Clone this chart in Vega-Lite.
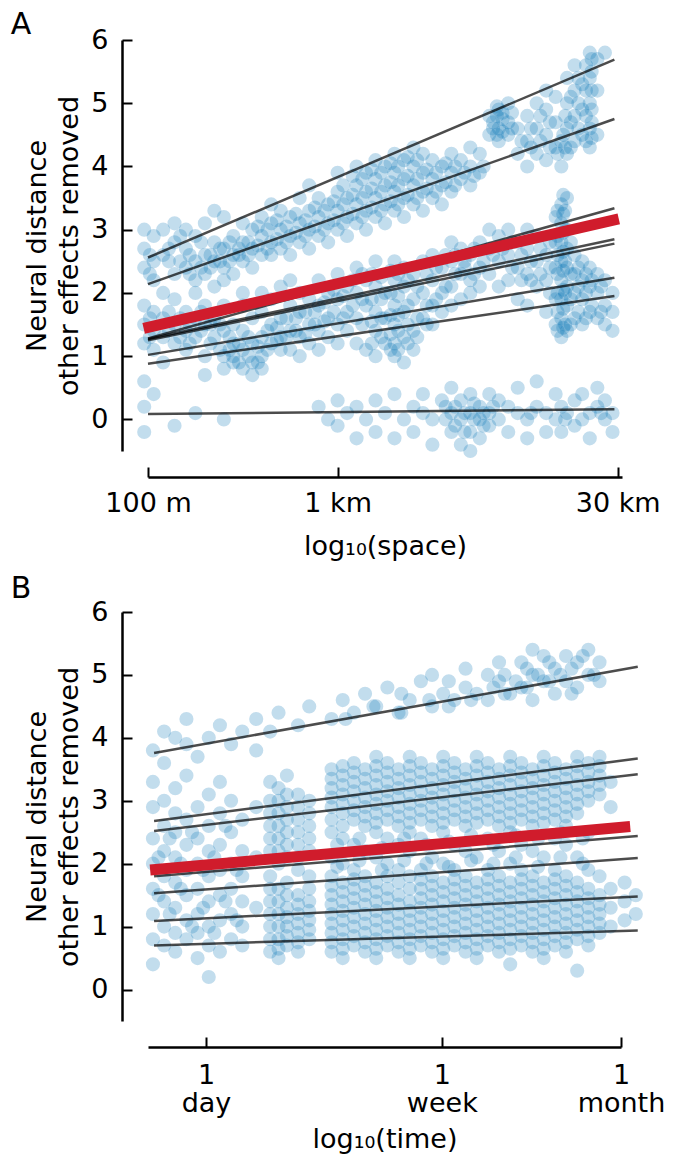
{
"$schema": "https://vega.github.io/schema/vega-lite/v6.json",
"background": "white",
"padding": {"left": 10, "top": 10, "right": 5, "bottom": 5},
"spacing": 15,
"config": {
 "view": {"stroke": null},
 "font": "DejaVu Sans",
 "axis": {"grid": false, "domainColor": "#000", "domainWidth": 2.5, "tickColor": "#000", "tickWidth": 2, "tickSize": -10, "labelFont": "DejaVu Sans", "titleFont": "DejaVu Sans", "labelFontSize": 27, "titleFontSize": 27, "titleFontWeight": "normal", "labelColor": "#000", "titleColor": "#000", "offset": 26, "labelFlush": false, "labelOverlap": false, "labelBound": false},
 "axisY": {"labelPadding": 24, "titlePadding": 7, "titleLineHeight": 32},
 "title": {"font": "DejaVu Sans", "fontSize": 30, "fontWeight": "normal", "color": "#000", "anchor": "start", "frame": "bounds"}
},
"datasets": {
 "ptsA": [
{"x":1.98,"y":2.4},{"x":1.98,"y":2.7},{"x":1.98,"y":1.5},{"x":1.98,"y":1.2},{"x":1.98,"y":0.6},{"x":1.98,"y":0.2},{"x":1.98,"y":-0.2},{"x":1.98,"y":1.8},{"x":1.98,"y":3.0},
{"x":2.03,"y":2.2},{"x":2.03,"y":2.9},{"x":2.03,"y":1.4},{"x":2.03,"y":1.7},{"x":2.03,"y":1.1},{"x":2.03,"y":0.4},{"x":2.03,"y":2.5},
{"x":2.08,"y":2.6},{"x":2.08,"y":3.0},{"x":2.08,"y":1.6},{"x":2.08,"y":1.3},{"x":2.08,"y":2.0},{"x":2.08,"y":0.9},
{"x":2.14,"y":2.3},{"x":2.14,"y":2.8},{"x":2.14,"y":1.5},{"x":2.14,"y":1.2},{"x":2.14,"y":1.9},{"x":2.14,"y":3.1},{"x":2.14,"y":-0.1},
{"x":2.2,"y":2.4},{"x":2.2,"y":2.7},{"x":2.2,"y":3.0},{"x":2.2,"y":1.4},{"x":2.2,"y":1.7},{"x":2.2,"y":1.1},
{"x":2.25,"y":2.5},{"x":2.25,"y":2.2},{"x":2.25,"y":2.9},{"x":2.25,"y":1.6},{"x":2.25,"y":1.3},{"x":2.25,"y":2.0},{"x":2.25,"y":0.1},
{"x":2.3,"y":2.3},{"x":2.3,"y":2.6},{"x":2.3,"y":3.1},{"x":2.3,"y":1.5},{"x":2.3,"y":1.0},{"x":2.3,"y":1.8},{"x":2.3,"y":0.7},
{"x":2.35,"y":2.5},{"x":2.35,"y":2.8},{"x":2.35,"y":3.3},{"x":2.35,"y":1.3},{"x":2.35,"y":1.6},{"x":2.35,"y":2.1},
{"x":2.4,"y":2.4},{"x":2.4,"y":2.7},{"x":2.4,"y":2.2},{"x":2.4,"y":1.4},{"x":2.4,"y":1.0},{"x":2.4,"y":0.8},{"x":2.4,"y":1.8},{"x":2.4,"y":3.2},{"x":2.4,"y":0.0},
{"x":2.45,"y":2.6},{"x":2.45,"y":2.9},{"x":2.45,"y":2.3},{"x":2.45,"y":1.2},{"x":2.45,"y":1.0},{"x":2.45,"y":0.9},{"x":2.45,"y":1.5},
{"x":2.5,"y":2.5},{"x":2.5,"y":2.8},{"x":2.5,"y":3.1},{"x":2.5,"y":1.1},{"x":2.5,"y":0.8},{"x":2.5,"y":1.4},{"x":2.5,"y":1.8},{"x":2.5,"y":2.0},
{"x":2.55,"y":2.7},{"x":2.55,"y":3.0},{"x":2.55,"y":2.4},{"x":2.55,"y":0.9},{"x":2.55,"y":1.2},{"x":2.55,"y":1.6},{"x":2.55,"y":0.7},
{"x":2.6,"y":2.6},{"x":2.6,"y":2.9},{"x":2.6,"y":3.2},{"x":2.6,"y":1.0},{"x":2.6,"y":1.3},{"x":2.6,"y":1.7},{"x":2.6,"y":2.0},{"x":2.6,"y":0.8},
{"x":2.65,"y":2.8},{"x":2.65,"y":3.1},{"x":2.65,"y":2.6},{"x":2.65,"y":3.4},{"x":2.65,"y":1.2},{"x":2.65,"y":1.5},{"x":2.65,"y":1.9},
{"x":2.7,"y":2.7},{"x":2.7,"y":3.0},{"x":2.7,"y":3.3},{"x":2.7,"y":1.3},{"x":2.7,"y":1.6},{"x":2.7,"y":1.1},{"x":2.7,"y":2.1},
{"x":2.75,"y":2.9},{"x":2.75,"y":3.2},{"x":2.75,"y":2.6},{"x":2.75,"y":1.4},{"x":2.75,"y":1.8},{"x":2.75,"y":1.1},{"x":2.75,"y":2.2},
{"x":2.8,"y":2.8},{"x":2.8,"y":3.1},{"x":2.8,"y":3.5},{"x":2.8,"y":1.3},{"x":2.8,"y":1.7},{"x":2.8,"y":2.0},{"x":2.8,"y":1.0},
{"x":2.85,"y":3.0},{"x":2.85,"y":3.3},{"x":2.85,"y":2.7},{"x":2.85,"y":3.7},{"x":2.85,"y":1.5},{"x":2.85,"y":1.9},{"x":2.85,"y":1.2},
{"x":2.9,"y":2.9},{"x":2.9,"y":3.2},{"x":2.9,"y":3.5},{"x":2.9,"y":1.4},{"x":2.9,"y":1.8},{"x":2.9,"y":2.2},{"x":2.9,"y":1.1},{"x":2.9,"y":0.2},
{"x":2.95,"y":3.1},{"x":2.95,"y":3.4},{"x":2.95,"y":2.8},{"x":2.95,"y":1.6},{"x":2.95,"y":2.0},{"x":2.95,"y":1.3},{"x":2.95,"y":0.0},
{"x":3.0,"y":3.0},{"x":3.0,"y":3.3},{"x":3.0,"y":3.6},{"x":3.0,"y":3.9},{"x":3.0,"y":1.5},{"x":3.0,"y":1.9},{"x":3.0,"y":2.3},{"x":3.0,"y":1.2},{"x":3.0,"y":0.3},{"x":3.0,"y":-0.1},
{"x":3.05,"y":3.2},{"x":3.05,"y":3.5},{"x":3.05,"y":2.9},{"x":3.05,"y":1.7},{"x":3.05,"y":2.1},{"x":3.05,"y":1.4},{"x":3.05,"y":0.1},
{"x":3.1,"y":3.1},{"x":3.1,"y":3.4},{"x":3.1,"y":3.7},{"x":3.1,"y":4.0},{"x":3.1,"y":1.6},{"x":3.1,"y":2.0},{"x":3.1,"y":2.4},{"x":3.1,"y":1.2},{"x":3.1,"y":0.2},{"x":3.1,"y":-0.3},
{"x":3.15,"y":3.3},{"x":3.15,"y":3.6},{"x":3.15,"y":3.0},{"x":3.15,"y":3.9},{"x":3.15,"y":1.8},{"x":3.15,"y":2.2},{"x":3.15,"y":1.1},{"x":3.15,"y":0.0},
{"x":3.2,"y":3.2},{"x":3.2,"y":3.5},{"x":3.2,"y":3.8},{"x":3.2,"y":4.1},{"x":3.2,"y":1.4},{"x":3.2,"y":1.7},{"x":3.2,"y":2.1},{"x":3.2,"y":2.5},{"x":3.2,"y":1.0},{"x":3.2,"y":0.3},{"x":3.2,"y":-0.2},
{"x":3.25,"y":3.4},{"x":3.25,"y":3.7},{"x":3.25,"y":3.1},{"x":3.25,"y":4.0},{"x":3.25,"y":1.6},{"x":3.25,"y":2.0},{"x":3.25,"y":1.2},{"x":3.25,"y":0.1},
{"x":3.3,"y":3.3},{"x":3.3,"y":3.6},{"x":3.3,"y":3.9},{"x":3.3,"y":4.2},{"x":3.3,"y":1.2},{"x":3.3,"y":1.5},{"x":3.3,"y":1.8},{"x":3.3,"y":2.2},{"x":3.3,"y":2.5},{"x":3.3,"y":1.0},{"x":3.3,"y":0.4},{"x":3.3,"y":-0.3},
{"x":3.35,"y":3.5},{"x":3.35,"y":3.8},{"x":3.35,"y":3.2},{"x":3.35,"y":4.1},{"x":3.35,"y":1.3},{"x":3.35,"y":1.7},{"x":3.35,"y":2.1},{"x":3.35,"y":2.4},{"x":3.35,"y":0.9},{"x":3.35,"y":0.0},
{"x":3.4,"y":3.4},{"x":3.4,"y":3.7},{"x":3.4,"y":4.0},{"x":3.4,"y":4.3},{"x":3.4,"y":1.4},{"x":3.4,"y":1.9},{"x":3.4,"y":2.3},{"x":3.4,"y":1.1},{"x":3.4,"y":0.2},{"x":3.4,"y":-0.2},
{"x":3.45,"y":3.6},{"x":3.45,"y":3.9},{"x":3.45,"y":3.3},{"x":3.45,"y":4.2},{"x":3.45,"y":1.6},{"x":3.45,"y":2.0},{"x":3.45,"y":2.5},{"x":3.45,"y":0.1},{"x":3.45,"y":0.4},
{"x":3.5,"y":3.5},{"x":3.5,"y":3.8},{"x":3.5,"y":4.1},{"x":3.5,"y":1.8},{"x":3.5,"y":2.2},{"x":3.5,"y":2.6},{"x":3.5,"y":1.5},{"x":3.5,"y":0.0},{"x":3.5,"y":-0.4},
{"x":3.55,"y":3.7},{"x":3.55,"y":4.0},{"x":3.55,"y":3.4},{"x":3.55,"y":2.0},{"x":3.55,"y":2.4},{"x":3.55,"y":1.7},{"x":3.55,"y":0.3},
{"x":3.6,"y":3.6},{"x":3.6,"y":3.9},{"x":3.6,"y":4.2},{"x":3.6,"y":2.1},{"x":3.6,"y":2.5},{"x":3.6,"y":2.8},{"x":3.6,"y":1.8},{"x":3.6,"y":0.1},{"x":3.6,"y":-0.2},{"x":3.6,"y":0.5},
{"x":3.65,"y":3.8},{"x":3.65,"y":4.1},{"x":3.65,"y":2.3},{"x":3.65,"y":2.7},{"x":3.65,"y":1.9},{"x":3.65,"y":0.0},{"x":3.65,"y":0.3},{"x":3.65,"y":-0.4},
{"x":3.7,"y":3.7},{"x":3.7,"y":4.0},{"x":3.7,"y":4.3},{"x":3.7,"y":2.2},{"x":3.7,"y":2.6},{"x":3.7,"y":2.0},{"x":3.7,"y":0.1},{"x":3.7,"y":-0.2},{"x":3.7,"y":0.4},{"x":3.7,"y":-0.5},
{"x":3.75,"y":3.9},{"x":3.75,"y":4.2},{"x":3.75,"y":2.4},{"x":3.75,"y":2.8},{"x":3.75,"y":2.1},{"x":3.75,"y":0.0},{"x":3.75,"y":0.2},{"x":3.75,"y":-0.3},
{"x":3.8,"y":4.5},{"x":3.8,"y":4.8},{"x":3.8,"y":2.3},{"x":3.8,"y":2.7},{"x":3.8,"y":3.0},{"x":3.8,"y":0.1},{"x":3.8,"y":-0.1},{"x":3.8,"y":0.4},
{"x":3.85,"y":4.6},{"x":3.85,"y":4.9},{"x":3.85,"y":4.4},{"x":3.85,"y":2.5},{"x":3.85,"y":2.9},{"x":3.85,"y":2.1},{"x":3.85,"y":0.0},{"x":3.85,"y":0.3},
{"x":3.9,"y":4.7},{"x":3.9,"y":5.0},{"x":3.9,"y":4.5},{"x":3.9,"y":2.2},{"x":3.9,"y":2.6},{"x":3.9,"y":3.0},{"x":3.9,"y":0.2},{"x":3.9,"y":-0.2},
{"x":3.95,"y":4.2},{"x":3.95,"y":4.6},{"x":3.95,"y":2.4},{"x":3.95,"y":2.8},{"x":3.95,"y":1.9},{"x":3.95,"y":0.1},{"x":3.95,"y":0.5},
{"x":4.0,"y":4.0},{"x":4.0,"y":4.4},{"x":4.0,"y":4.8},{"x":4.0,"y":2.3},{"x":4.0,"y":2.7},{"x":4.0,"y":3.0},{"x":4.0,"y":1.8},{"x":4.0,"y":0.0},{"x":4.0,"y":-0.3},
{"x":4.05,"y":4.2},{"x":4.05,"y":4.6},{"x":4.05,"y":5.0},{"x":4.05,"y":2.5},{"x":4.05,"y":2.9},{"x":4.05,"y":2.1},{"x":4.05,"y":0.2},{"x":4.05,"y":0.6},
{"x":4.1,"y":4.1},{"x":4.1,"y":4.5},{"x":4.1,"y":4.9},{"x":4.1,"y":5.2},{"x":4.1,"y":2.2},{"x":4.1,"y":2.6},{"x":4.1,"y":1.7},{"x":4.1,"y":0.1},{"x":4.1,"y":-0.2},
{"x":4.15,"y":4.3},{"x":4.15,"y":4.7},{"x":4.15,"y":5.1},{"x":4.15,"y":1.5},{"x":4.15,"y":1.9},{"x":4.15,"y":2.4},{"x":4.15,"y":2.8},{"x":4.15,"y":3.2},{"x":4.15,"y":0.0},{"x":4.15,"y":0.4},
{"x":4.18,"y":4.0},{"x":4.18,"y":4.4},{"x":4.18,"y":1.3},{"x":4.18,"y":1.6},{"x":4.18,"y":1.9},{"x":4.18,"y":2.2},{"x":4.18,"y":2.5},{"x":4.18,"y":2.8},{"x":4.18,"y":3.1},{"x":4.18,"y":3.4},{"x":4.18,"y":0.2},{"x":4.18,"y":-0.2},
{"x":4.21,"y":4.2},{"x":4.21,"y":4.6},{"x":4.21,"y":5.0},{"x":4.21,"y":5.4},{"x":4.21,"y":1.4},{"x":4.21,"y":1.8},{"x":4.21,"y":2.1},{"x":4.21,"y":2.4},{"x":4.21,"y":2.7},{"x":4.21,"y":3.0},{"x":4.21,"y":3.5},{"x":4.21,"y":0.1},
{"x":4.25,"y":4.4},{"x":4.25,"y":4.8},{"x":4.25,"y":5.2},{"x":4.25,"y":5.6},{"x":4.25,"y":1.6},{"x":4.25,"y":2.0},{"x":4.25,"y":2.3},{"x":4.25,"y":2.6},{"x":4.25,"y":0.3},{"x":4.25,"y":-0.1},
{"x":4.29,"y":4.5},{"x":4.29,"y":4.9},{"x":4.29,"y":5.3},{"x":4.29,"y":1.5},{"x":4.29,"y":1.9},{"x":4.29,"y":2.2},{"x":4.29,"y":2.5},{"x":4.29,"y":0.0},{"x":4.29,"y":0.4},
{"x":4.33,"y":4.3},{"x":4.33,"y":4.6},{"x":4.33,"y":5.0},{"x":4.33,"y":5.4},{"x":4.33,"y":5.8},{"x":4.33,"y":1.7},{"x":4.33,"y":2.1},{"x":4.33,"y":2.4},{"x":4.33,"y":0.1},{"x":4.33,"y":-0.3},
{"x":4.37,"y":4.5},{"x":4.37,"y":5.2},{"x":4.37,"y":5.7},{"x":4.37,"y":1.6},{"x":4.37,"y":2.0},{"x":4.37,"y":2.3},{"x":4.37,"y":0.2},{"x":4.37,"y":0.5},
{"x":4.41,"y":1.5},{"x":4.41,"y":1.8},{"x":4.41,"y":2.2},{"x":4.41,"y":0.0},{"x":4.41,"y":0.3},{"x":4.41,"y":5.8},
{"x":4.45,"y":1.4},{"x":4.45,"y":1.7},{"x":4.45,"y":2.0},{"x":4.45,"y":0.1},{"x":4.45,"y":-0.2},
{"x":2.01,"y":2.3},{"x":2.01,"y":2.6},{"x":2.01,"y":1.3},{"x":2.01,"y":1.6},
{"x":2.11,"y":2.5},{"x":2.11,"y":2.7},{"x":2.11,"y":1.4},{"x":2.11,"y":1.7},
{"x":2.17,"y":2.5},{"x":2.17,"y":2.9},{"x":2.17,"y":1.3},{"x":2.17,"y":1.6},
{"x":2.22,"y":2.6},{"x":2.22,"y":2.3},{"x":2.22,"y":1.5},{"x":2.22,"y":1.2},
{"x":2.28,"y":2.4},{"x":2.28,"y":2.8},{"x":2.28,"y":1.4},{"x":2.28,"y":1.7},
{"x":2.33,"y":2.6},{"x":2.33,"y":2.4},{"x":2.33,"y":1.2},{"x":2.33,"y":1.5},
{"x":2.38,"y":2.7},{"x":2.38,"y":2.5},{"x":2.38,"y":1.5},{"x":2.38,"y":1.1},
{"x":2.43,"y":2.5},{"x":2.43,"y":2.8},{"x":2.43,"y":1.1},{"x":2.43,"y":1.3},
{"x":2.48,"y":2.7},{"x":2.48,"y":2.6},{"x":2.48,"y":0.9},{"x":2.48,"y":1.2},
{"x":2.53,"y":2.8},{"x":2.53,"y":2.6},{"x":2.53,"y":1.0},{"x":2.53,"y":1.3},
{"x":2.58,"y":2.75},{"x":2.58,"y":3.05},{"x":2.58,"y":0.9},{"x":2.58,"y":1.15},
{"x":2.63,"y":2.7},{"x":2.63,"y":3.0},{"x":2.63,"y":1.1},{"x":2.63,"y":1.4},
{"x":2.68,"y":2.85},{"x":2.68,"y":3.15},{"x":2.68,"y":1.25},{"x":2.68,"y":1.45},
{"x":2.73,"y":2.8},{"x":2.73,"y":3.05},{"x":2.73,"y":1.3},{"x":2.73,"y":1.6},
{"x":2.78,"y":2.95},{"x":2.78,"y":3.25},{"x":2.78,"y":1.4},{"x":2.78,"y":1.6},
{"x":2.83,"y":2.9},{"x":2.83,"y":3.15},{"x":2.83,"y":1.35},{"x":2.83,"y":1.7},
{"x":2.88,"y":3.05},{"x":2.88,"y":3.35},{"x":2.88,"y":1.5},{"x":2.88,"y":1.7},
{"x":2.93,"y":3.0},{"x":2.93,"y":3.3},{"x":2.93,"y":1.55},{"x":2.93,"y":1.85},
{"x":2.98,"y":3.15},{"x":2.98,"y":3.45},{"x":2.98,"y":1.7},{"x":2.98,"y":2.05},
{"x":3.03,"y":3.1},{"x":3.03,"y":3.4},{"x":3.03,"y":3.7},{"x":3.03,"y":1.6},{"x":3.03,"y":1.95},
{"x":3.08,"y":3.25},{"x":3.08,"y":3.55},{"x":3.08,"y":3.85},{"x":3.08,"y":1.8},{"x":3.08,"y":2.2},
{"x":3.13,"y":3.2},{"x":3.13,"y":3.5},{"x":3.13,"y":3.8},{"x":3.13,"y":1.5},{"x":3.13,"y":1.9},{"x":3.13,"y":2.3},
{"x":3.18,"y":3.35},{"x":3.18,"y":3.65},{"x":3.18,"y":3.95},{"x":3.18,"y":1.2},{"x":3.18,"y":1.55},{"x":3.18,"y":1.9},{"x":3.18,"y":2.3},
{"x":3.23,"y":3.3},{"x":3.23,"y":3.6},{"x":3.23,"y":3.9},{"x":3.23,"y":1.3},{"x":3.23,"y":1.6},{"x":3.23,"y":1.9},{"x":3.23,"y":2.25},
{"x":3.28,"y":3.45},{"x":3.28,"y":3.75},{"x":3.28,"y":4.05},{"x":3.28,"y":1.1},{"x":3.28,"y":1.35},{"x":3.28,"y":1.65},{"x":3.28,"y":2.0},{"x":3.28,"y":2.35},
{"x":3.32,"y":3.4},{"x":3.32,"y":3.7},{"x":3.32,"y":4.0},{"x":3.32,"y":1.1},{"x":3.32,"y":1.4},{"x":3.32,"y":1.65},{"x":3.32,"y":1.95},{"x":3.32,"y":2.3},
{"x":3.37,"y":3.55},{"x":3.37,"y":3.85},{"x":3.37,"y":4.15},{"x":3.37,"y":1.2},{"x":3.37,"y":1.5},{"x":3.37,"y":1.8},{"x":3.37,"y":2.2},
{"x":3.42,"y":3.5},{"x":3.42,"y":3.8},{"x":3.42,"y":4.1},{"x":3.42,"y":1.3},{"x":3.42,"y":1.6},{"x":3.42,"y":2.1},
{"x":3.47,"y":3.65},{"x":3.47,"y":3.95},{"x":3.47,"y":1.5},{"x":3.47,"y":1.8},{"x":3.47,"y":2.3},
{"x":3.52,"y":3.6},{"x":3.52,"y":3.9},{"x":3.52,"y":1.9},{"x":3.52,"y":2.4},
{"x":3.57,"y":3.75},{"x":3.57,"y":4.05},{"x":3.57,"y":2.1},{"x":3.57,"y":2.6},{"x":3.57,"y":0.0},{"x":3.57,"y":0.2},
{"x":3.62,"y":3.7},{"x":3.62,"y":4.0},{"x":3.62,"y":2.3},{"x":3.62,"y":2.6},{"x":3.62,"y":-0.1},{"x":3.62,"y":0.2},
{"x":3.67,"y":3.9},{"x":3.67,"y":2.4},{"x":3.67,"y":2.5},{"x":3.67,"y":0.1},{"x":3.67,"y":-0.2},
{"x":3.72,"y":3.85},{"x":3.72,"y":2.3},{"x":3.72,"y":2.7},{"x":3.72,"y":0.0},{"x":3.72,"y":0.25},
{"x":3.77,"y":4.0},{"x":3.77,"y":2.5},{"x":3.77,"y":0.1},{"x":3.77,"y":-0.1},
{"x":3.82,"y":4.6},{"x":3.82,"y":4.7},{"x":3.82,"y":2.6},{"x":3.82,"y":0.2},
{"x":3.84,"y":4.5},{"x":3.84,"y":4.8},{"x":3.84,"y":4.95},
{"x":3.87,"y":4.55},{"x":3.87,"y":4.75},{"x":3.87,"y":4.85},{"x":3.87,"y":2.7},
{"x":3.92,"y":4.6},{"x":3.92,"y":4.85},{"x":3.92,"y":2.4},{"x":3.92,"y":2.8},
{"x":3.97,"y":4.4},{"x":3.97,"y":2.6},{"x":3.97,"y":2.2},
{"x":4.02,"y":4.3},{"x":4.02,"y":4.6},{"x":4.02,"y":2.5},{"x":4.02,"y":2.2},{"x":4.02,"y":0.1},
{"x":4.07,"y":4.4},{"x":4.07,"y":4.8},{"x":4.07,"y":2.3},{"x":4.07,"y":2.7},
{"x":4.12,"y":4.3},{"x":4.12,"y":4.7},{"x":4.12,"y":2.0},{"x":4.12,"y":2.4},{"x":4.12,"y":2.8},
{"x":4.16,"y":1.4},{"x":4.16,"y":1.7},{"x":4.16,"y":2.0},{"x":4.16,"y":2.3},{"x":4.16,"y":2.6},{"x":4.16,"y":2.9},{"x":4.16,"y":3.3},{"x":4.16,"y":4.2},
{"x":4.19,"y":1.45},{"x":4.19,"y":1.75},{"x":4.19,"y":2.05},{"x":4.19,"y":2.35},{"x":4.19,"y":2.65},{"x":4.19,"y":2.95},{"x":4.19,"y":3.25},{"x":4.19,"y":3.55},{"x":4.19,"y":4.5},
{"x":4.2,"y":1.5},{"x":4.2,"y":2.0},{"x":4.2,"y":2.5},{"x":4.2,"y":3.0},{"x":4.2,"y":3.3},{"x":4.2,"y":4.3},{"x":4.2,"y":4.8},{"x":4.2,"y":0.0},
{"x":4.23,"y":4.3},{"x":4.23,"y":4.7},{"x":4.23,"y":5.1},{"x":4.23,"y":1.5},{"x":4.23,"y":1.9},{"x":4.23,"y":2.3},{"x":4.23,"y":2.8},
{"x":4.27,"y":4.6},{"x":4.27,"y":5.0},{"x":4.27,"y":5.4},{"x":4.27,"y":1.7},{"x":4.27,"y":2.1},{"x":4.27,"y":2.4},
{"x":4.31,"y":4.4},{"x":4.31,"y":4.8},{"x":4.31,"y":5.2},{"x":4.31,"y":5.6},{"x":4.31,"y":1.6},{"x":4.31,"y":2.0},{"x":4.31,"y":2.3},
{"x":4.34,"y":4.45},{"x":4.34,"y":4.7},{"x":4.34,"y":4.9},{"x":4.34,"y":5.2},{"x":4.34,"y":5.5},{"x":4.34,"y":5.7},{"x":4.34,"y":1.8},{"x":4.34,"y":2.2},
{"x":4.39,"y":1.7},{"x":4.39,"y":2.1},{"x":4.39,"y":0.1}
 ],
 "linesA": [
{"id":"a1","x":2.0,"y":2.56},{"id":"a1","x":4.46,"y":5.69},
{"id":"a2","x":2.0,"y":2.14},{"id":"a2","x":4.46,"y":4.75},
{"id":"a3","x":2.0,"y":1.28},{"id":"a3","x":4.46,"y":3.34},
{"id":"a4","x":2.0,"y":1.27},{"id":"a4","x":4.46,"y":2.85},
{"id":"a5","x":2.0,"y":1.25},{"id":"a5","x":4.46,"y":2.78},
{"id":"a6","x":2.0,"y":1.02},{"id":"a6","x":4.46,"y":2.24},
{"id":"a7","x":2.0,"y":0.88},{"id":"a7","x":4.46,"y":1.95},
{"id":"a8","x":2.0,"y":0.085},{"id":"a8","x":4.46,"y":0.16}
 ],
 "redA": [{"x":1.977,"y":1.44},{"x":4.483,"y":3.17}],
 "ptsB": [
{"x":-0.19,"y":0.4},{"x":-0.19,"y":0.8},{"x":-0.19,"y":1.2},{"x":-0.19,"y":1.6},{"x":-0.19,"y":2.0},{"x":-0.19,"y":2.4},{"x":-0.19,"y":2.9},{"x":-0.19,"y":3.3},{"x":-0.19,"y":3.8},
{"x":-0.15,"y":0.7},{"x":-0.15,"y":1.0},{"x":-0.15,"y":1.4},{"x":-0.15,"y":1.8},{"x":-0.15,"y":2.2},{"x":-0.15,"y":2.6},{"x":-0.15,"y":3.0},{"x":-0.15,"y":3.6},{"x":-0.15,"y":4.1},
{"x":-0.11,"y":0.6},{"x":-0.11,"y":0.9},{"x":-0.11,"y":1.3},{"x":-0.11,"y":1.7},{"x":-0.11,"y":2.1},{"x":-0.11,"y":2.5},{"x":-0.11,"y":2.8},{"x":-0.11,"y":3.2},{"x":-0.11,"y":4.0},
{"x":-0.07,"y":0.8},{"x":-0.07,"y":1.1},{"x":-0.07,"y":1.5},{"x":-0.07,"y":1.9},{"x":-0.07,"y":2.3},{"x":-0.07,"y":2.7},{"x":-0.07,"y":3.4},{"x":-0.07,"y":3.9},{"x":-0.07,"y":4.3},
{"x":-0.03,"y":0.5},{"x":-0.03,"y":0.9},{"x":-0.03,"y":1.2},{"x":-0.03,"y":1.6},{"x":-0.03,"y":2.0},{"x":-0.03,"y":2.4},{"x":-0.03,"y":2.9},{"x":-0.03,"y":3.7},
{"x":0.01,"y":0.7},{"x":0.01,"y":1.0},{"x":0.01,"y":1.4},{"x":0.01,"y":1.8},{"x":0.01,"y":2.2},{"x":0.01,"y":2.6},{"x":0.01,"y":3.1},{"x":0.01,"y":4.0},{"x":0.01,"y":0.2},
{"x":0.05,"y":0.6},{"x":0.05,"y":1.1},{"x":0.05,"y":1.5},{"x":0.05,"y":1.9},{"x":0.05,"y":2.3},{"x":0.05,"y":2.8},{"x":0.05,"y":3.3},{"x":0.05,"y":4.2},
{"x":0.09,"y":0.8},{"x":0.09,"y":1.2},{"x":0.09,"y":1.6},{"x":0.09,"y":2.0},{"x":0.09,"y":2.5},{"x":0.09,"y":3.0},{"x":0.09,"y":3.9},
{"x":0.13,"y":0.7},{"x":0.13,"y":1.0},{"x":0.13,"y":1.4},{"x":0.13,"y":1.8},{"x":0.13,"y":2.2},{"x":0.13,"y":2.7},{"x":0.13,"y":4.1},
{"x":0.18,"y":1.3},{"x":0.18,"y":2.1},{"x":0.18,"y":2.9},{"x":0.18,"y":3.8},{"x":0.18,"y":4.3},
{"x":0.23,"y":0.6},{"x":0.23,"y":1.0},{"x":0.23,"y":1.4},{"x":0.23,"y":1.8},{"x":0.23,"y":2.2},{"x":0.23,"y":2.6},{"x":0.23,"y":3.0},{"x":0.23,"y":3.3},{"x":0.23,"y":4.1},
{"x":0.26,"y":0.5},{"x":0.26,"y":0.8},{"x":0.26,"y":1.2},{"x":0.26,"y":1.6},{"x":0.26,"y":2.0},{"x":0.26,"y":2.4},{"x":0.26,"y":2.8},{"x":0.26,"y":3.2},{"x":0.26,"y":4.4},
{"x":0.29,"y":0.7},{"x":0.29,"y":1.0},{"x":0.29,"y":1.3},{"x":0.29,"y":1.7},{"x":0.29,"y":2.1},{"x":0.29,"y":2.5},{"x":0.29,"y":2.9},{"x":0.29,"y":3.4},
{"x":0.33,"y":0.6},{"x":0.33,"y":0.9},{"x":0.33,"y":1.2},{"x":0.33,"y":1.5},{"x":0.33,"y":1.9},{"x":0.33,"y":2.3},{"x":0.33,"y":2.7},{"x":0.33,"y":3.1},{"x":0.33,"y":4.2},
{"x":0.37,"y":0.8},{"x":0.37,"y":1.1},{"x":0.37,"y":1.4},{"x":0.37,"y":1.8},{"x":0.37,"y":2.2},{"x":0.37,"y":2.6},{"x":0.37,"y":3.0},{"x":0.37,"y":4.5},
{"x":0.45,"y":0.6},{"x":0.45,"y":0.9},{"x":0.45,"y":1.2},{"x":0.45,"y":1.5},{"x":0.45,"y":1.8},{"x":0.45,"y":2.1},{"x":0.45,"y":2.5},{"x":0.45,"y":2.9},{"x":0.45,"y":3.2},{"x":0.45,"y":3.5},{"x":0.45,"y":4.3},
{"x":0.49,"y":0.5},{"x":0.49,"y":0.8},{"x":0.49,"y":1.1},{"x":0.49,"y":1.4},{"x":0.49,"y":1.7},{"x":0.49,"y":2.0},{"x":0.49,"y":2.4},{"x":0.49,"y":2.8},{"x":0.49,"y":3.1},{"x":0.49,"y":3.4},{"x":0.49,"y":4.6},
{"x":0.53,"y":0.7},{"x":0.53,"y":1.0},{"x":0.53,"y":1.3},{"x":0.53,"y":1.6},{"x":0.53,"y":1.9},{"x":0.53,"y":2.3},{"x":0.53,"y":2.7},{"x":0.53,"y":3.0},{"x":0.53,"y":3.3},{"x":0.53,"y":3.6},{"x":0.53,"y":4.4},
{"x":0.57,"y":0.6},{"x":0.57,"y":0.9},{"x":0.57,"y":1.2},{"x":0.57,"y":1.5},{"x":0.57,"y":1.8},{"x":0.57,"y":2.2},{"x":0.57,"y":2.6},{"x":0.57,"y":2.9},{"x":0.57,"y":3.2},{"x":0.57,"y":3.5},{"x":0.57,"y":4.7},
{"x":0.61,"y":0.5},{"x":0.61,"y":0.8},{"x":0.61,"y":1.1},{"x":0.61,"y":1.4},{"x":0.61,"y":1.7},{"x":0.61,"y":2.1},{"x":0.61,"y":2.5},{"x":0.61,"y":2.8},{"x":0.61,"y":3.1},{"x":0.61,"y":3.4},{"x":0.61,"y":3.7},{"x":0.61,"y":4.5},
{"x":0.65,"y":0.7},{"x":0.65,"y":1.0},{"x":0.65,"y":1.3},{"x":0.65,"y":1.6},{"x":0.65,"y":2.0},{"x":0.65,"y":2.4},{"x":0.65,"y":2.7},{"x":0.65,"y":3.0},{"x":0.65,"y":3.3},{"x":0.65,"y":3.6},{"x":0.65,"y":4.8},
{"x":0.69,"y":0.6},{"x":0.69,"y":0.9},{"x":0.69,"y":1.2},{"x":0.69,"y":1.5},{"x":0.69,"y":1.9},{"x":0.69,"y":2.3},{"x":0.69,"y":2.6},{"x":0.69,"y":2.9},{"x":0.69,"y":3.2},{"x":0.69,"y":3.5},{"x":0.69,"y":4.4},
{"x":0.73,"y":0.5},{"x":0.73,"y":0.8},{"x":0.73,"y":1.1},{"x":0.73,"y":1.4},{"x":0.73,"y":1.8},{"x":0.73,"y":2.2},{"x":0.73,"y":2.5},{"x":0.73,"y":2.8},{"x":0.73,"y":3.1},{"x":0.73,"y":3.4},{"x":0.73,"y":3.7},{"x":0.73,"y":4.6},
{"x":0.77,"y":0.7},{"x":0.77,"y":1.0},{"x":0.77,"y":1.3},{"x":0.77,"y":1.6},{"x":0.77,"y":1.9},{"x":0.77,"y":2.4},{"x":0.77,"y":2.7},{"x":0.77,"y":3.0},{"x":0.77,"y":3.3},{"x":0.77,"y":3.6},{"x":0.77,"y":4.9},
{"x":0.81,"y":0.6},{"x":0.81,"y":0.9},{"x":0.81,"y":1.2},{"x":0.81,"y":1.5},{"x":0.81,"y":1.8},{"x":0.81,"y":2.1},{"x":0.81,"y":2.6},{"x":0.81,"y":2.9},{"x":0.81,"y":3.2},{"x":0.81,"y":3.5},{"x":0.81,"y":4.5},{"x":0.81,"y":5.0},
{"x":0.85,"y":0.5},{"x":0.85,"y":0.8},{"x":0.85,"y":1.1},{"x":0.85,"y":1.4},{"x":0.85,"y":1.7},{"x":0.85,"y":2.0},{"x":0.85,"y":2.5},{"x":0.85,"y":2.8},{"x":0.85,"y":3.1},{"x":0.85,"y":3.4},{"x":0.85,"y":3.7},{"x":0.85,"y":4.7},
{"x":0.89,"y":0.7},{"x":0.89,"y":1.0},{"x":0.89,"y":1.3},{"x":0.89,"y":1.6},{"x":0.89,"y":1.9},{"x":0.89,"y":2.3},{"x":0.89,"y":2.7},{"x":0.89,"y":3.0},{"x":0.89,"y":3.3},{"x":0.89,"y":3.6},{"x":0.89,"y":4.6},
{"x":0.93,"y":0.6},{"x":0.93,"y":0.9},{"x":0.93,"y":1.2},{"x":0.93,"y":1.5},{"x":0.93,"y":1.8},{"x":0.93,"y":2.2},{"x":0.93,"y":2.6},{"x":0.93,"y":2.9},{"x":0.93,"y":3.2},{"x":0.93,"y":3.5},{"x":0.93,"y":4.8},{"x":0.93,"y":5.1},
{"x":0.97,"y":0.5},{"x":0.97,"y":0.8},{"x":0.97,"y":1.1},{"x":0.97,"y":1.4},{"x":0.97,"y":1.7},{"x":0.97,"y":2.1},{"x":0.97,"y":2.8},{"x":0.97,"y":3.1},{"x":0.97,"y":3.4},{"x":0.97,"y":3.7},{"x":0.97,"y":4.7},
{"x":1.01,"y":0.7},{"x":1.01,"y":1.0},{"x":1.01,"y":1.3},{"x":1.01,"y":1.6},{"x":1.01,"y":1.9},{"x":1.01,"y":2.4},{"x":1.01,"y":2.7},{"x":1.01,"y":3.0},{"x":1.01,"y":3.3},{"x":1.01,"y":3.6},{"x":1.01,"y":4.6},{"x":1.01,"y":5.0},
{"x":1.05,"y":0.6},{"x":1.05,"y":0.9},{"x":1.05,"y":1.2},{"x":1.05,"y":1.5},{"x":1.05,"y":1.8},{"x":1.05,"y":2.2},{"x":1.05,"y":2.6},{"x":1.05,"y":2.9},{"x":1.05,"y":3.2},{"x":1.05,"y":3.5},{"x":1.05,"y":4.9},{"x":1.05,"y":5.2},
{"x":1.09,"y":0.4},{"x":1.09,"y":0.8},{"x":1.09,"y":1.1},{"x":1.09,"y":1.4},{"x":1.09,"y":1.7},{"x":1.09,"y":2.0},{"x":1.09,"y":2.5},{"x":1.09,"y":2.8},{"x":1.09,"y":3.1},{"x":1.09,"y":3.4},{"x":1.09,"y":3.7},{"x":1.09,"y":4.7},
{"x":1.13,"y":0.7},{"x":1.13,"y":1.0},{"x":1.13,"y":1.3},{"x":1.13,"y":1.6},{"x":1.13,"y":1.9},{"x":1.13,"y":2.3},{"x":1.13,"y":2.7},{"x":1.13,"y":3.0},{"x":1.13,"y":3.3},{"x":1.13,"y":3.6},{"x":1.13,"y":4.8},{"x":1.13,"y":5.2},
{"x":1.17,"y":0.6},{"x":1.17,"y":0.9},{"x":1.17,"y":1.2},{"x":1.17,"y":1.5},{"x":1.17,"y":1.8},{"x":1.17,"y":2.2},{"x":1.17,"y":2.6},{"x":1.17,"y":2.9},{"x":1.17,"y":3.2},{"x":1.17,"y":3.5},{"x":1.17,"y":4.6},{"x":1.17,"y":5.0},{"x":1.17,"y":5.4},
{"x":1.21,"y":0.5},{"x":1.21,"y":0.8},{"x":1.21,"y":1.1},{"x":1.21,"y":1.4},{"x":1.21,"y":1.7},{"x":1.21,"y":2.1},{"x":1.21,"y":2.8},{"x":1.21,"y":3.1},{"x":1.21,"y":3.4},{"x":1.21,"y":3.7},{"x":1.21,"y":4.9},{"x":1.21,"y":5.3},
{"x":1.25,"y":0.7},{"x":1.25,"y":1.0},{"x":1.25,"y":1.3},{"x":1.25,"y":1.6},{"x":1.25,"y":1.9},{"x":1.25,"y":2.4},{"x":1.25,"y":2.7},{"x":1.25,"y":3.0},{"x":1.25,"y":3.3},{"x":1.25,"y":3.6},{"x":1.25,"y":4.7},{"x":1.25,"y":5.1},
{"x":1.29,"y":0.6},{"x":1.29,"y":0.9},{"x":1.29,"y":1.2},{"x":1.29,"y":1.5},{"x":1.29,"y":1.8},{"x":1.29,"y":2.3},{"x":1.29,"y":2.6},{"x":1.29,"y":2.9},{"x":1.29,"y":3.2},{"x":1.29,"y":3.5},{"x":1.29,"y":4.9},{"x":1.29,"y":5.3},
{"x":1.33,"y":0.3},{"x":1.33,"y":0.8},{"x":1.33,"y":1.1},{"x":1.33,"y":1.4},{"x":1.33,"y":1.7},{"x":1.33,"y":2.1},{"x":1.33,"y":2.8},{"x":1.33,"y":3.1},{"x":1.33,"y":3.4},{"x":1.33,"y":3.7},{"x":1.33,"y":4.8},{"x":1.33,"y":5.2},
{"x":1.37,"y":0.7},{"x":1.37,"y":1.0},{"x":1.37,"y":1.3},{"x":1.37,"y":1.6},{"x":1.37,"y":1.9},{"x":1.37,"y":2.5},{"x":1.37,"y":3.0},{"x":1.37,"y":3.3},{"x":1.37,"y":3.6},{"x":1.37,"y":5.0},{"x":1.37,"y":5.4},
{"x":1.41,"y":0.9},{"x":1.41,"y":1.2},{"x":1.41,"y":1.5},{"x":1.41,"y":1.8},{"x":1.41,"y":3.1},{"x":1.41,"y":3.4},{"x":1.41,"y":3.7},{"x":1.41,"y":4.9},{"x":1.41,"y":5.2},
{"x":1.45,"y":1.0},{"x":1.45,"y":1.3},{"x":1.45,"y":1.6},{"x":1.45,"y":2.9},{"x":1.45,"y":3.3},
{"x":1.5,"y":1.1},{"x":1.5,"y":1.4},{"x":1.5,"y":1.7},
{"x":1.54,"y":1.2},{"x":1.54,"y":1.5},
{"x":0.23,"y":0.8},{"x":0.23,"y":1.2},{"x":0.23,"y":1.6},{"x":0.23,"y":2.4},{"x":0.23,"y":2.8},
{"x":0.26,"y":0.65},{"x":0.26,"y":1.0},{"x":0.26,"y":1.4},{"x":0.26,"y":2.2},{"x":0.26,"y":2.6},{"x":0.26,"y":3.0},
{"x":0.29,"y":0.85},{"x":0.29,"y":1.15},{"x":0.29,"y":1.5},{"x":0.29,"y":2.3},{"x":0.29,"y":2.7},{"x":0.29,"y":3.1},
{"x":0.33,"y":0.75},{"x":0.33,"y":1.05},{"x":0.33,"y":1.35},{"x":0.33,"y":2.1},{"x":0.33,"y":2.5},{"x":0.33,"y":2.9},
{"x":0.37,"y":0.95},{"x":0.37,"y":1.25},{"x":0.37,"y":1.6},{"x":0.37,"y":2.4},{"x":0.37,"y":2.8},
{"x":0.45,"y":0.75},{"x":0.45,"y":1.05},{"x":0.45,"y":1.35},{"x":0.45,"y":1.65},{"x":0.45,"y":2.7},{"x":0.45,"y":3.05},{"x":0.45,"y":3.35},
{"x":0.49,"y":0.65},{"x":0.49,"y":0.95},{"x":0.49,"y":1.25},{"x":0.49,"y":1.55},{"x":0.49,"y":2.6},{"x":0.49,"y":2.95},{"x":0.49,"y":3.25},{"x":0.49,"y":3.55},
{"x":0.53,"y":0.85},{"x":0.53,"y":1.15},{"x":0.53,"y":1.45},{"x":0.53,"y":1.75},{"x":0.53,"y":2.85},{"x":0.53,"y":3.15},{"x":0.53,"y":3.45},
{"x":0.57,"y":0.75},{"x":0.57,"y":1.05},{"x":0.57,"y":1.35},{"x":0.57,"y":1.65},{"x":0.57,"y":2.75},{"x":0.57,"y":3.05},{"x":0.57,"y":3.35},
{"x":0.61,"y":0.65},{"x":0.61,"y":0.95},{"x":0.61,"y":1.25},{"x":0.61,"y":1.55},{"x":0.61,"y":2.65},{"x":0.61,"y":2.95},{"x":0.61,"y":3.25},{"x":0.61,"y":3.55},
{"x":0.65,"y":0.85},{"x":0.65,"y":1.15},{"x":0.65,"y":1.45},{"x":0.65,"y":1.8},{"x":0.65,"y":2.85},{"x":0.65,"y":3.15},{"x":0.65,"y":3.45},
{"x":0.69,"y":0.75},{"x":0.69,"y":1.05},{"x":0.69,"y":1.35},{"x":0.69,"y":1.7},{"x":0.69,"y":2.75},{"x":0.69,"y":3.05},{"x":0.69,"y":3.35},
{"x":0.73,"y":0.65},{"x":0.73,"y":0.95},{"x":0.73,"y":1.25},{"x":0.73,"y":1.6},{"x":0.73,"y":2.65},{"x":0.73,"y":2.95},{"x":0.73,"y":3.25},{"x":0.73,"y":3.55},
{"x":0.77,"y":0.85},{"x":0.77,"y":1.15},{"x":0.77,"y":1.45},{"x":0.77,"y":1.75},{"x":0.77,"y":2.85},{"x":0.77,"y":3.15},{"x":0.77,"y":3.45},
{"x":0.81,"y":0.75},{"x":0.81,"y":1.05},{"x":0.81,"y":1.35},{"x":0.81,"y":1.65},{"x":0.81,"y":2.75},{"x":0.81,"y":3.05},{"x":0.81,"y":3.35},
{"x":0.85,"y":0.65},{"x":0.85,"y":0.95},{"x":0.85,"y":1.25},{"x":0.85,"y":1.55},{"x":0.85,"y":2.65},{"x":0.85,"y":2.95},{"x":0.85,"y":3.25},{"x":0.85,"y":3.55},
{"x":0.89,"y":0.85},{"x":0.89,"y":1.15},{"x":0.89,"y":1.45},{"x":0.89,"y":1.75},{"x":0.89,"y":2.85},{"x":0.89,"y":3.15},{"x":0.89,"y":3.45},
{"x":0.93,"y":0.75},{"x":0.93,"y":1.05},{"x":0.93,"y":1.35},{"x":0.93,"y":1.65},{"x":0.93,"y":2.75},{"x":0.93,"y":3.05},{"x":0.93,"y":3.35},
{"x":0.97,"y":0.65},{"x":0.97,"y":0.95},{"x":0.97,"y":1.25},{"x":0.97,"y":1.55},{"x":0.97,"y":2.65},{"x":0.97,"y":2.95},{"x":0.97,"y":3.25},{"x":0.97,"y":3.55},
{"x":1.01,"y":0.85},{"x":1.01,"y":1.15},{"x":1.01,"y":1.45},{"x":1.01,"y":1.75},{"x":1.01,"y":2.85},{"x":1.01,"y":3.15},{"x":1.01,"y":3.45},
{"x":1.05,"y":0.75},{"x":1.05,"y":1.05},{"x":1.05,"y":1.35},{"x":1.05,"y":1.65},{"x":1.05,"y":2.75},{"x":1.05,"y":3.05},{"x":1.05,"y":3.35},
{"x":1.09,"y":0.65},{"x":1.09,"y":0.95},{"x":1.09,"y":1.25},{"x":1.09,"y":1.55},{"x":1.09,"y":2.65},{"x":1.09,"y":2.95},{"x":1.09,"y":3.25},{"x":1.09,"y":3.55},
{"x":1.13,"y":0.85},{"x":1.13,"y":1.15},{"x":1.13,"y":1.45},{"x":1.13,"y":1.75},{"x":1.13,"y":2.85},{"x":1.13,"y":3.15},{"x":1.13,"y":3.45},
{"x":1.17,"y":0.75},{"x":1.17,"y":1.05},{"x":1.17,"y":1.35},{"x":1.17,"y":1.65},{"x":1.17,"y":2.75},{"x":1.17,"y":3.05},{"x":1.17,"y":3.35},
{"x":1.21,"y":0.65},{"x":1.21,"y":0.95},{"x":1.21,"y":1.25},{"x":1.21,"y":1.55},{"x":1.21,"y":2.65},{"x":1.21,"y":2.95},{"x":1.21,"y":3.25},{"x":1.21,"y":3.55},
{"x":1.25,"y":0.85},{"x":1.25,"y":1.15},{"x":1.25,"y":1.45},{"x":1.25,"y":1.75},{"x":1.25,"y":2.85},{"x":1.25,"y":3.15},{"x":1.25,"y":3.45},
{"x":1.29,"y":0.75},{"x":1.29,"y":1.05},{"x":1.29,"y":1.35},{"x":1.29,"y":1.65},{"x":1.29,"y":2.75},{"x":1.29,"y":3.05},{"x":1.29,"y":3.35},
{"x":1.33,"y":0.95},{"x":1.33,"y":1.25},{"x":1.33,"y":1.55},{"x":1.33,"y":2.95},{"x":1.33,"y":3.25},{"x":1.33,"y":3.55},
{"x":1.37,"y":0.85},{"x":1.37,"y":1.15},{"x":1.37,"y":1.45},{"x":1.37,"y":3.15},{"x":1.37,"y":3.45},
{"x":1.41,"y":1.05},{"x":1.41,"y":1.35},{"x":1.41,"y":3.25},{"x":1.41,"y":3.55},
{"x":0.47,"y":1.95},{"x":0.47,"y":2.3},{"x":0.55,"y":2.05},{"x":0.55,"y":2.4},{"x":0.63,"y":1.9},{"x":0.63,"y":2.25},{"x":0.71,"y":2.05},{"x":0.71,"y":2.4},{"x":0.79,"y":2.0},{"x":0.79,"y":2.3},{"x":0.87,"y":1.95},{"x":0.87,"y":2.35},{"x":0.95,"y":2.05},{"x":0.95,"y":2.45},{"x":1.03,"y":2.0},{"x":1.03,"y":2.3},{"x":1.11,"y":2.1},{"x":1.11,"y":2.45},{"x":1.19,"y":1.95},{"x":1.19,"y":2.4},{"x":1.27,"y":2.1},{"x":1.27,"y":2.5},{"x":1.35,"y":2.0},{"x":1.35,"y":2.4},
{"x":0.5,"y":4.3},{"x":0.6,"y":4.5},{"x":0.7,"y":4.4},{"x":0.7,"y":4.7},{"x":0.8,"y":4.6},{"x":0.87,"y":4.5},{"x":0.87,"y":4.9},{"x":0.95,"y":4.6},{"x":1.03,"y":4.8},{"x":1.07,"y":4.7},{"x":1.07,"y":5.0},{"x":1.11,"y":4.9},{"x":1.15,"y":4.8},{"x":1.15,"y":5.1},{"x":1.19,"y":5.0},{"x":1.23,"y":4.9},{"x":1.23,"y":5.2},{"x":1.27,"y":5.0},{"x":1.31,"y":5.1},{"x":1.31,"y":4.7},{"x":1.35,"y":5.3},{"x":1.39,"y":5.0},
{"x":-0.17,"y":1.5},{"x":-0.17,"y":2.1},{"x":-0.13,"y":1.2},{"x":-0.13,"y":2.4},{"x":-0.09,"y":1.6},{"x":-0.09,"y":2.0},{"x":-0.05,"y":1.0},{"x":-0.05,"y":2.5},{"x":-0.01,"y":1.3},{"x":-0.01,"y":1.9},{"x":0.03,"y":0.9},{"x":0.03,"y":2.1},{"x":0.07,"y":1.4},{"x":0.07,"y":2.6},{"x":0.11,"y":1.1},{"x":0.11,"y":1.9}
 ],
 "linesB": [
{"id":"b1","x":-0.186,"y":3.76},{"id":"b1","x":1.547,"y":5.13},
{"id":"b2","x":-0.186,"y":2.68},{"id":"b2","x":1.547,"y":3.67},
{"id":"b3","x":-0.186,"y":2.52},{"id":"b3","x":1.547,"y":3.42},
{"id":"b4","x":-0.186,"y":1.80},{"id":"b4","x":1.547,"y":2.44},
{"id":"b5","x":-0.186,"y":1.53},{"id":"b5","x":1.547,"y":2.09},
{"id":"b6","x":-0.186,"y":1.09},{"id":"b6","x":1.547,"y":1.48},
{"id":"b7","x":-0.186,"y":0.70},{"id":"b7","x":1.547,"y":0.94}
 ],
 "redB": [{"x":-0.2,"y":1.90},{"x":1.52,"y":2.59}]
},
"vconcat": [
 {
  "width": 474, "height": 411,
  "title": {"text": "A", "dx": -13, "offset": -14},
  "encoding": {
   "x": {"field": "x", "type": "quantitative", "scale": {"domain": [2, 4.5], "nice": false, "zero": false},
         "axis": {"title": "log₁₀(space)", "values": [2, 3, 4.4771], "labelPadding": 23, "titlePadding": 17, "labelExpr": "datum.value < 2.5 ? '100 m' : datum.value < 3.5 ? '1 km' : '30 km'"}},
   "y": {"field": "y", "type": "quantitative", "scale": {"domain": [-0.5, 6], "nice": false, "zero": false},
         "axis": {"title": ["Neural distance", "other effects removed"], "values": [0, 1, 2, 3, 4, 5, 6]}}
  },
  "layer": [
   {"data": {"name": "ptsA"}, "mark": {"type": "circle", "size": 200, "opacity": 0.24, "color": "#0072B2"}},
   {"data": {"name": "linesA"}, "mark": {"type": "line", "color": "#000", "opacity": 0.7, "strokeWidth": 2.5}, "encoding": {"detail": {"field": "id"}}},
   {"data": {"name": "redA"}, "mark": {"type": "line", "color": "#d01c2c", "strokeWidth": 11, "strokeCap": "butt"}}
  ]
 },
 {
  "width": 473, "height": 409,
  "title": {"text": "B", "dx": -13, "offset": -6},
  "encoding": {
   "x": {"field": "x", "type": "quantitative", "scale": {"domain": [-0.2077, 1.487], "nice": false, "zero": false},
         "axis": {"title": "log₁₀(time)", "values": [0, 0.8451, 1.487], "labelPadding": 25, "labelLineHeight": 28, "titlePadding": 10, "labelExpr": "datum.value < 0.4 ? ['1', 'day'] : datum.value < 1.2 ? ['1', 'week'] : ['1', 'month']"}},
   "y": {"field": "y", "type": "quantitative", "scale": {"domain": [-0.5, 6], "nice": false, "zero": false},
         "axis": {"title": ["Neural distance", "other effects removed"], "values": [0, 1, 2, 3, 4, 5, 6]}}
  },
  "layer": [
   {"data": {"name": "ptsB"}, "mark": {"type": "circle", "size": 200, "opacity": 0.24, "color": "#0072B2"}},
   {"data": {"name": "linesB"}, "mark": {"type": "line", "color": "#000", "opacity": 0.7, "strokeWidth": 2.5}, "encoding": {"detail": {"field": "id"}}},
   {"data": {"name": "redB"}, "mark": {"type": "line", "color": "#d01c2c", "strokeWidth": 11, "strokeCap": "butt"}}
  ]
 }
]
}
